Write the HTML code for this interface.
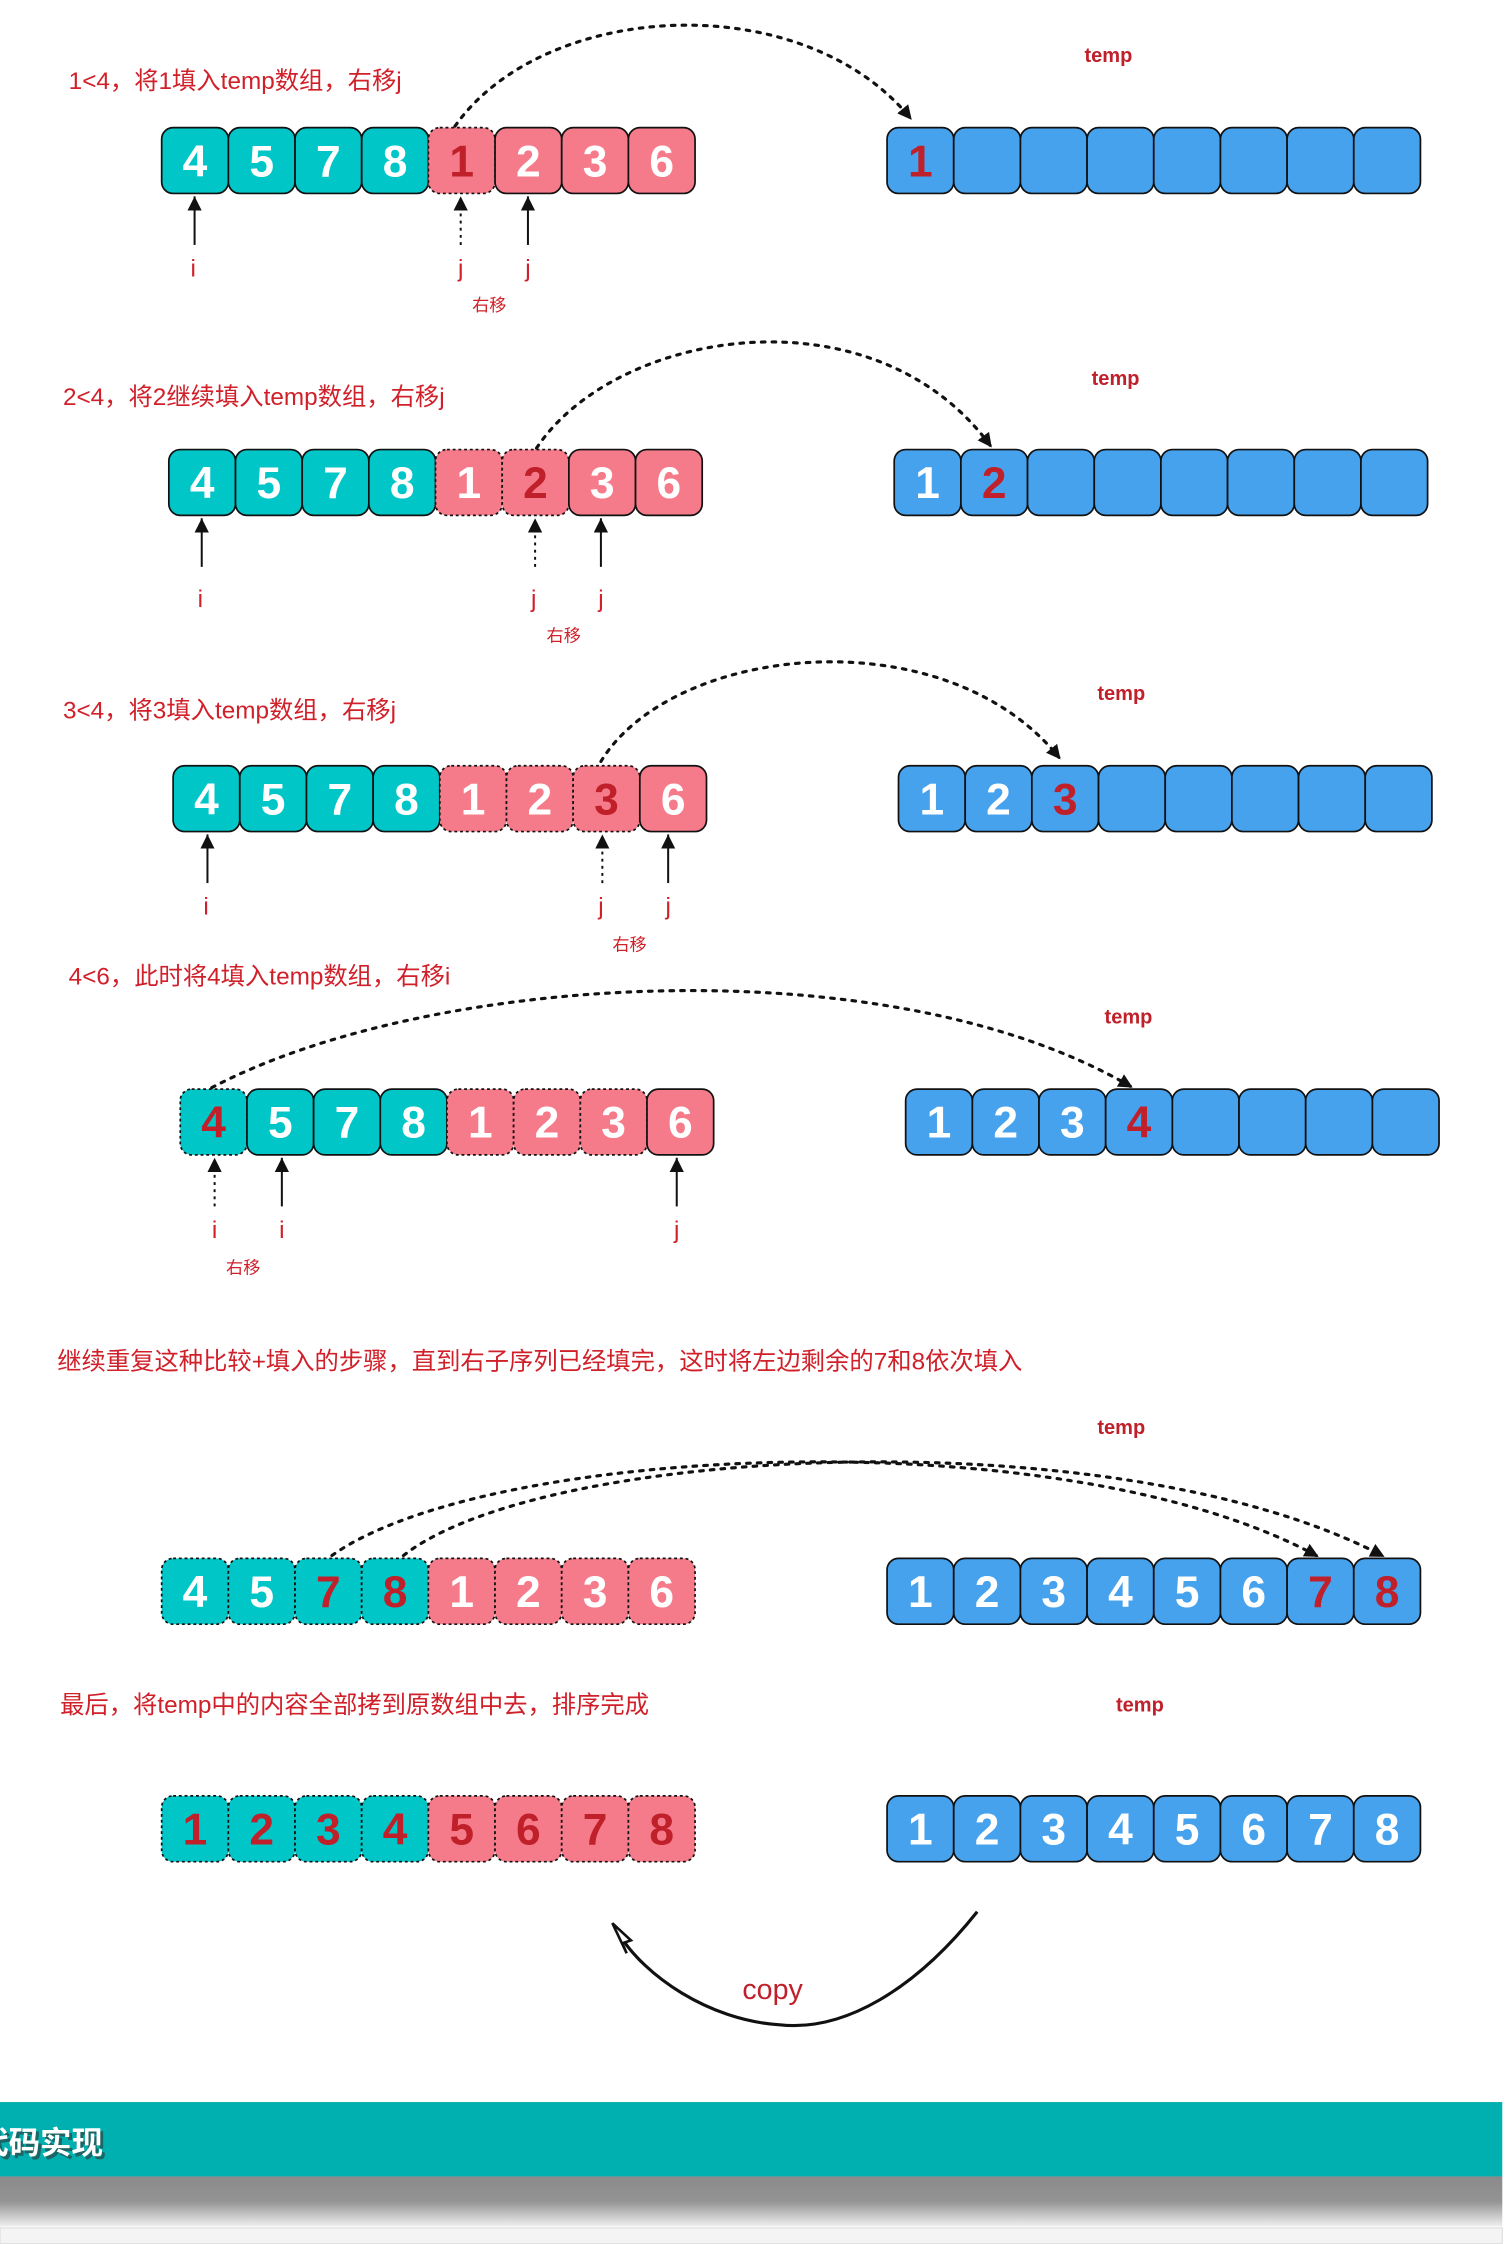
<!DOCTYPE html>
<html><head><meta charset="utf-8"><style>
html,body{margin:0;padding:0;background:#fff;width:1508px;height:2244px;overflow:hidden}
svg{display:block}
.lbl{font-family:"Liberation Sans","Noto Sans CJK SC",sans-serif;fill:#D0202A;font-size:17px}
.tmp{font-family:"Liberation Sans",sans-serif;fill:#C0202A;font-size:14px;font-weight:bold}
.d{font-family:"Liberation Sans",sans-serif;font-weight:bold;font-size:31px;fill:#fff;text-anchor:middle}
.r{fill:#C0202A}
.t{fill:#00C6C8;stroke:#111;stroke-width:1.2}
.p{fill:#F67B8A;stroke:#111;stroke-width:1.2}
.b{fill:#47A2EE;stroke:#111;stroke-width:1.2}
.x{stroke-dasharray:2 2}
.ij{font-family:"Liberation Sans",sans-serif;fill:#D0202A;font-size:17px;text-anchor:middle}
.ym{font-family:"Liberation Sans","Noto Sans CJK SC",sans-serif;fill:#D0202A;font-size:12px;text-anchor:middle}
.arc{fill:none;stroke:#111;stroke-width:2.2;stroke-dasharray:2.5 5;stroke-linecap:round}
.ptr{stroke:#111;stroke-width:1.4}
.ptrd{stroke:#111;stroke-width:1.4;stroke-dasharray:2 3}
</style></head><body>
<svg width="1508" height="2244" viewBox="0 0 1054 1568" xmlns="http://www.w3.org/2000/svg">
<defs>
<marker id="ah" markerWidth="10" markerHeight="10" refX="8" refY="5" orient="auto" markerUnits="userSpaceOnUse"><path d="M0,0 L10,5 L0,10 z" fill="#111"/></marker>
<marker id="pa" markerWidth="10" markerHeight="12" refX="10" refY="5" orient="auto" markerUnits="userSpaceOnUse"><path d="M0,0 L10,5 L0,10 z" fill="#111"/></marker>
<linearGradient id="sh" x1="0" y1="0" x2="0" y2="1"><stop offset="0" stop-color="#8a8a8a"/><stop offset="0.5" stop-color="#949494"/><stop offset="1" stop-color="#f0f0f0"/></linearGradient>
</defs>

<!-- ROW 1 -->
<text class="lbl" x="48" y="62">1&lt;4，将1填入temp数组，右移j</text>
<text class="tmp" x="758" y="43">temp</text>
<path class="arc" d="M318,88 C380,0 560,-10 636,82" marker-end="url(#ah)"/>
<g transform="translate(113,89)">
<rect class="t" x="0" y="0" width="46.6" height="46" rx="8"/><rect class="t" x="46.6" width="46.6" height="46" rx="8"/><rect class="t" x="93.2" width="46.6" height="46" rx="8"/><rect class="t" x="139.8" width="46.6" height="46" rx="8"/>
<rect class="p x" x="186.4" width="46.6" height="46" rx="8"/><rect class="p" x="233" width="46.6" height="46" rx="8"/><rect class="p" x="279.6" width="46.6" height="46" rx="8"/><rect class="p" x="326.2" width="46.6" height="46" rx="8"/>
<text class="d" x="23.3" y="34">4</text><text class="d" x="69.9" y="34">5</text><text class="d" x="116.5" y="34">7</text><text class="d" x="163.1" y="34">8</text><text class="d r" x="209.7" y="34">1</text><text class="d" x="256.3" y="34">2</text><text class="d" x="302.9" y="34">3</text><text class="d" x="349.5" y="34">6</text>
</g>
<g transform="translate(620,89)">
<rect class="b" x="0" width="46.6" height="46" rx="8"/><rect class="b" x="46.6" width="46.6" height="46" rx="8"/><rect class="b" x="93.2" width="46.6" height="46" rx="8"/><rect class="b" x="139.8" width="46.6" height="46" rx="8"/><rect class="b" x="186.4" width="46.6" height="46" rx="8"/><rect class="b" x="233" width="46.6" height="46" rx="8"/><rect class="b" x="279.6" width="46.6" height="46" rx="8"/><rect class="b" x="326.2" width="46.6" height="46" rx="8"/>
<text class="d r" x="23.3" y="34">1</text>
</g>
<line class="ptr" x1="136" y1="171" x2="136" y2="137" marker-end="url(#pa)"/>
<line class="ptrd" x1="322" y1="171" x2="322" y2="137" marker-end="url(#pa)"/>
<line class="ptr" x1="369" y1="171" x2="369" y2="137" marker-end="url(#pa)"/>
<text class="ij" x="135" y="193">i</text><text class="ij" x="322" y="193">j</text><text class="ij" x="369" y="193">j</text>
<text class="ym" x="342" y="217">右移</text>

<!-- ROW 2 -->
<text class="lbl" x="44" y="283">2&lt;4，将2继续填入temp数组，右移j</text>
<text class="tmp" x="763" y="269">temp</text>
<path class="arc" d="M375,313 C430,230 610,200 692,311" marker-end="url(#ah)"/>
<g transform="translate(118,314)">
<rect class="t" x="0" width="46.6" height="46" rx="8"/><rect class="t" x="46.6" width="46.6" height="46" rx="8"/><rect class="t" x="93.2" width="46.6" height="46" rx="8"/><rect class="t" x="139.8" width="46.6" height="46" rx="8"/>
<rect class="p x" x="186.4" width="46.6" height="46" rx="8"/><rect class="p x" x="233" width="46.6" height="46" rx="8"/><rect class="p" x="279.6" width="46.6" height="46" rx="8"/><rect class="p" x="326.2" width="46.6" height="46" rx="8"/>
<text class="d" x="23.3" y="34">4</text><text class="d" x="69.9" y="34">5</text><text class="d" x="116.5" y="34">7</text><text class="d" x="163.1" y="34">8</text><text class="d" x="209.7" y="34">1</text><text class="d r" x="256.3" y="34">2</text><text class="d" x="302.9" y="34">3</text><text class="d" x="349.5" y="34">6</text>
</g>
<g transform="translate(625,314)">
<rect class="b" x="0" width="46.6" height="46" rx="8"/><rect class="b" x="46.6" width="46.6" height="46" rx="8"/><rect class="b" x="93.2" width="46.6" height="46" rx="8"/><rect class="b" x="139.8" width="46.6" height="46" rx="8"/><rect class="b" x="186.4" width="46.6" height="46" rx="8"/><rect class="b" x="233" width="46.6" height="46" rx="8"/><rect class="b" x="279.6" width="46.6" height="46" rx="8"/><rect class="b" x="326.2" width="46.6" height="46" rx="8"/>
<text class="d" x="23.3" y="34">1</text><text class="d r" x="69.9" y="34">2</text>
</g>
<line class="ptr" x1="141" y1="396" x2="141" y2="362" marker-end="url(#pa)"/>
<line class="ptrd" x1="374" y1="396" x2="374" y2="362" marker-end="url(#pa)"/>
<line class="ptr" x1="420" y1="396" x2="420" y2="362" marker-end="url(#pa)"/>
<text class="ij" x="140" y="424">i</text><text class="ij" x="373" y="424">j</text><text class="ij" x="420" y="424">j</text>
<text class="ym" x="394" y="448">右移</text>

<!-- ROW 3 -->
<text class="lbl" x="44" y="502">3&lt;4，将3填入temp数组，右移j</text>
<text class="tmp" x="767" y="489">temp</text>
<path class="arc" d="M420,532 C470,450 660,430 740,529" marker-end="url(#ah)"/>
<g transform="translate(121,535)">
<rect class="t" x="0" width="46.6" height="46" rx="8"/><rect class="t" x="46.6" width="46.6" height="46" rx="8"/><rect class="t" x="93.2" width="46.6" height="46" rx="8"/><rect class="t" x="139.8" width="46.6" height="46" rx="8"/>
<rect class="p x" x="186.4" width="46.6" height="46" rx="8"/><rect class="p x" x="233" width="46.6" height="46" rx="8"/><rect class="p x" x="279.6" width="46.6" height="46" rx="8"/><rect class="p" x="326.2" width="46.6" height="46" rx="8"/>
<text class="d" x="23.3" y="34">4</text><text class="d" x="69.9" y="34">5</text><text class="d" x="116.5" y="34">7</text><text class="d" x="163.1" y="34">8</text><text class="d" x="209.7" y="34">1</text><text class="d" x="256.3" y="34">2</text><text class="d r" x="302.9" y="34">3</text><text class="d" x="349.5" y="34">6</text>
</g>
<g transform="translate(628,535)">
<rect class="b" x="0" width="46.6" height="46" rx="8"/><rect class="b" x="46.6" width="46.6" height="46" rx="8"/><rect class="b" x="93.2" width="46.6" height="46" rx="8"/><rect class="b" x="139.8" width="46.6" height="46" rx="8"/><rect class="b" x="186.4" width="46.6" height="46" rx="8"/><rect class="b" x="233" width="46.6" height="46" rx="8"/><rect class="b" x="279.6" width="46.6" height="46" rx="8"/><rect class="b" x="326.2" width="46.6" height="46" rx="8"/>
<text class="d" x="23.3" y="34">1</text><text class="d" x="69.9" y="34">2</text><text class="d r" x="116.5" y="34">3</text>
</g>
<line class="ptr" x1="145" y1="617" x2="145" y2="583" marker-end="url(#pa)"/>
<line class="ptrd" x1="421" y1="617" x2="421" y2="583" marker-end="url(#pa)"/>
<line class="ptr" x1="467" y1="617" x2="467" y2="583" marker-end="url(#pa)"/>
<text class="ij" x="144" y="639">i</text><text class="ij" x="420" y="639">j</text><text class="ij" x="467" y="639">j</text>
<text class="ym" x="440" y="664">右移</text>

<!-- ROW 4 -->
<text class="lbl" x="48" y="688">4&lt;6，此时将4填入temp数组，右移i</text>
<text class="tmp" x="772" y="715">temp</text>
<path class="arc" d="M148,760 C300,680 620,660 790,759" marker-end="url(#ah)"/>
<g transform="translate(126,761)">
<rect class="t x" x="0" width="46.6" height="46" rx="8"/><rect class="t" x="46.6" width="46.6" height="46" rx="8"/><rect class="t" x="93.2" width="46.6" height="46" rx="8"/><rect class="t" x="139.8" width="46.6" height="46" rx="8"/>
<rect class="p x" x="186.4" width="46.6" height="46" rx="8"/><rect class="p x" x="233" width="46.6" height="46" rx="8"/><rect class="p x" x="279.6" width="46.6" height="46" rx="8"/><rect class="p" x="326.2" width="46.6" height="46" rx="8"/>
<text class="d r" x="23.3" y="34">4</text><text class="d" x="69.9" y="34">5</text><text class="d" x="116.5" y="34">7</text><text class="d" x="163.1" y="34">8</text><text class="d" x="209.7" y="34">1</text><text class="d" x="256.3" y="34">2</text><text class="d" x="302.9" y="34">3</text><text class="d" x="349.5" y="34">6</text>
</g>
<g transform="translate(633,761)">
<rect class="b" x="0" width="46.6" height="46" rx="8"/><rect class="b" x="46.6" width="46.6" height="46" rx="8"/><rect class="b" x="93.2" width="46.6" height="46" rx="8"/><rect class="b" x="139.8" width="46.6" height="46" rx="8"/><rect class="b" x="186.4" width="46.6" height="46" rx="8"/><rect class="b" x="233" width="46.6" height="46" rx="8"/><rect class="b" x="279.6" width="46.6" height="46" rx="8"/><rect class="b" x="326.2" width="46.6" height="46" rx="8"/>
<text class="d" x="23.3" y="34">1</text><text class="d" x="69.9" y="34">2</text><text class="d" x="116.5" y="34">3</text><text class="d r" x="163.1" y="34">4</text>
</g>
<line class="ptrd" x1="150" y1="843" x2="150" y2="809" marker-end="url(#pa)"/>
<line class="ptr" x1="197" y1="843" x2="197" y2="809" marker-end="url(#pa)"/>
<line class="ptr" x1="473" y1="843" x2="473" y2="809" marker-end="url(#pa)"/>
<text class="ij" x="150" y="865">i</text><text class="ij" x="197" y="865">i</text><text class="ij" x="473" y="865">j</text>
<text class="ym" x="170" y="890">右移</text>

<!-- ROW 5 -->
<text class="lbl" x="40" y="957">继续重复这种比较+填入的步骤，直到右子序列已经填完，这时将左边剩余的7和8依次填入</text>
<text class="tmp" x="767" y="1002">temp</text>
<path class="arc" d="M232,1087 C340,1010 740,990 920,1087" marker-end="url(#ah)"/>
<path class="arc" d="M282,1087 C380,1010 780,990 966,1087" marker-end="url(#ah)"/>
<g transform="translate(113,1089)">
<rect class="t x" x="0" width="46.6" height="46" rx="8"/><rect class="t x" x="46.6" width="46.6" height="46" rx="8"/><rect class="t x" x="93.2" width="46.6" height="46" rx="8"/><rect class="t x" x="139.8" width="46.6" height="46" rx="8"/>
<rect class="p x" x="186.4" width="46.6" height="46" rx="8"/><rect class="p x" x="233" width="46.6" height="46" rx="8"/><rect class="p x" x="279.6" width="46.6" height="46" rx="8"/><rect class="p x" x="326.2" width="46.6" height="46" rx="8"/>
<text class="d" x="23.3" y="34">4</text><text class="d" x="69.9" y="34">5</text><text class="d r" x="116.5" y="34">7</text><text class="d r" x="163.1" y="34">8</text><text class="d" x="209.7" y="34">1</text><text class="d" x="256.3" y="34">2</text><text class="d" x="302.9" y="34">3</text><text class="d" x="349.5" y="34">6</text>
</g>
<g transform="translate(620,1089)">
<rect class="b" x="0" width="46.6" height="46" rx="8"/><rect class="b" x="46.6" width="46.6" height="46" rx="8"/><rect class="b" x="93.2" width="46.6" height="46" rx="8"/><rect class="b" x="139.8" width="46.6" height="46" rx="8"/><rect class="b" x="186.4" width="46.6" height="46" rx="8"/><rect class="b" x="233" width="46.6" height="46" rx="8"/><rect class="b" x="279.6" width="46.6" height="46" rx="8"/><rect class="b" x="326.2" width="46.6" height="46" rx="8"/>
<text class="d" x="23.3" y="34">1</text><text class="d" x="69.9" y="34">2</text><text class="d" x="116.5" y="34">3</text><text class="d" x="163.1" y="34">4</text><text class="d" x="209.7" y="34">5</text><text class="d" x="256.3" y="34">6</text><text class="d r" x="302.9" y="34">7</text><text class="d r" x="349.5" y="34">8</text>
</g>

<!-- ROW 6 -->
<text class="lbl" x="42" y="1197">最后，将temp中的内容全部拷到原数组中去，排序完成</text>
<text class="tmp" x="780" y="1196">temp</text>
<g transform="translate(113,1255)">
<rect class="t x" x="0" width="46.6" height="46" rx="8"/><rect class="t x" x="46.6" width="46.6" height="46" rx="8"/><rect class="t x" x="93.2" width="46.6" height="46" rx="8"/><rect class="t x" x="139.8" width="46.6" height="46" rx="8"/>
<rect class="p x" x="186.4" width="46.6" height="46" rx="8"/><rect class="p x" x="233" width="46.6" height="46" rx="8"/><rect class="p x" x="279.6" width="46.6" height="46" rx="8"/><rect class="p x" x="326.2" width="46.6" height="46" rx="8"/>
<text class="d r" x="23.3" y="34">1</text><text class="d r" x="69.9" y="34">2</text><text class="d r" x="116.5" y="34">3</text><text class="d r" x="163.1" y="34">4</text><text class="d r" x="209.7" y="34">5</text><text class="d r" x="256.3" y="34">6</text><text class="d r" x="302.9" y="34">7</text><text class="d r" x="349.5" y="34">8</text>
</g>
<g transform="translate(620,1255)">
<rect class="b" x="0" width="46.6" height="46" rx="8"/><rect class="b" x="46.6" width="46.6" height="46" rx="8"/><rect class="b" x="93.2" width="46.6" height="46" rx="8"/><rect class="b" x="139.8" width="46.6" height="46" rx="8"/><rect class="b" x="186.4" width="46.6" height="46" rx="8"/><rect class="b" x="233" width="46.6" height="46" rx="8"/><rect class="b" x="279.6" width="46.6" height="46" rx="8"/><rect class="b" x="326.2" width="46.6" height="46" rx="8"/>
<text class="d" x="23.3" y="34">1</text><text class="d" x="69.9" y="34">2</text><text class="d" x="116.5" y="34">3</text><text class="d" x="163.1" y="34">4</text><text class="d" x="209.7" y="34">5</text><text class="d" x="256.3" y="34">6</text><text class="d" x="302.9" y="34">7</text><text class="d" x="349.5" y="34">8</text>
</g>

<!-- copy -->
<path d="M683,1336 C640,1390 590,1420 545,1415 C495,1412 450,1380 433,1352" fill="none" stroke="#111" stroke-width="2.2"/>
<path d="M428,1344 L441,1356 L435,1358 L438,1365 z" fill="#fff" stroke="#111" stroke-width="1.8"/>
<text x="540" y="1397" font-family="Liberation Sans, sans-serif" font-size="20" fill="#C0202A" text-anchor="middle">copy</text>

<!-- bottom bar -->
<rect x="0" y="1469" width="1050" height="52" fill="#00AFAF"/>
<rect x="0" y="1521" width="1050" height="35" fill="url(#sh)"/>
<rect x="0" y="1557" width="1050" height="11" fill="#f4f4f4" stroke="#ddd" stroke-width="0.8"/>
<text x="-14" y="1507" font-family="Liberation Sans, 'Noto Sans CJK SC', sans-serif" font-size="22" font-weight="bold" fill="#333" opacity="0.6">代码实现</text>
<text x="-16" y="1505" font-family="Liberation Sans, 'Noto Sans CJK SC', sans-serif" font-size="22" font-weight="bold" fill="#fff">代码实现</text>
</svg>
</body></html>
